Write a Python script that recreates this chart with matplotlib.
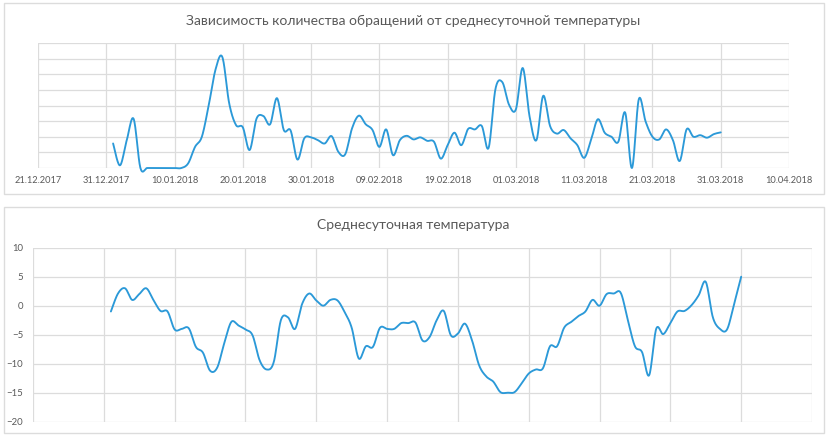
import numpy as np
import pandas as pd
import matplotlib
matplotlib.use("Agg")
import matplotlib.pyplot as plt
import matplotlib.dates as mdates
from matplotlib.patches import Rectangle

# ---------------- data ----------------
dates = pd.date_range("2018-01-01", "2018-03-31", freq="D")

calls = [1.57, 0.17, 1.78, 3.15, 0, 0, 0, 0, 0, 0,
         0, 0.3, 1.35, 2.0, 4.0, 6.3, 7.1, 4.15, 2.75, 2.6,
         1.15, 3.15, 3.33, 2.8, 4.47, 2.43, 2.4, 0.54, 1.9, 1.96,
         1.78, 1.57, 2.04, 1.03, 0.88, 2.54, 3.35, 2.8, 2.43, 1.35,
         2.47, 0.82, 1.78, 2.06, 1.83, 1.96, 1.74, 1.68, 0.6, 1.46,
         2.26, 1.46, 2.5, 2.47, 2.69, 1.29, 5.05, 5.5, 4.04, 3.76,
         6.4, 3.3, 1.78, 4.62, 2.69, 2.2, 2.43, 1.9, 1.46, 0.65,
         1.78, 3.12, 2.26, 2.0, 1.68, 3.55, 0, 4.4, 2.97, 2.0,
         1.83, 2.47, 1.78, 0.45, 2.47, 2.0, 2.1, 1.94, 2.17, 2.28]

temps = [-1.0, 2.1, 3.0, 1.0, 2.0, 3.0, 1.0, -0.9, -1.0, -4.1,
         -4.0, -3.9, -7.1, -8.1, -11.2, -10.7, -6.5, -2.8, -3.4, -4.1,
         -5.1, -9.4, -11.0, -9.7, -2.5, -2.0, -4.0, 0.3, 2.1, 0.9,
         0.0, 1.0, 0.9, -1.1, -3.8, -9.1, -7.0, -7.1, -3.8, -4.0,
         -4.0, -3.0, -3.0, -2.9, -6.0, -5.4, -2.5, -0.9, -5.1, -4.8,
         -3.1, -6.0, -10.3, -12.2, -13.1, -14.9, -15.0, -14.9, -13.4, -11.7,
         -11.0, -10.8, -7.0, -7.0, -3.8, -2.8, -1.8, -1.0, 1.0, 0.0,
         2.0, 2.1, 2.2, -2.5, -7.0, -8.0, -12.0, -4.0, -4.9, -3.0,
         -1.0, -0.9, 0.1, 1.8, 4.1, -2.0, -4.0, -4.1, 0.3, 5.0]

tick_labels = ["21.12.2017", "31.12.2017", "10.01.2018", "20.01.2018",
               "30.01.2018", "09.02.2018", "19.02.2018", "01.03.2018",
               "11.03.2018", "21.03.2018", "31.03.2018", "10.04.2018"]

title_top = "Зависимость количества обращений от среднесуточной температуры"
title_bottom = "Среднесуточная температура"

# ---------------- style ----------------
LINE = "#2b99d8"
GRID = "#dcdcdc"
TXT = "#595959"
plt.rcParams["font.family"] = ["Lato", "DejaVu Sans"]


def smooth(x, y, n=16):
    """Excel-like smoothed line (Catmull-Rom Bezier through the data)."""
    x = np.asarray(x, float)
    y = np.asarray(y, float)
    px = np.concatenate([[x[0]], x, [x[-1]]])
    py = np.concatenate([[y[0]], y, [y[-1]]])
    tt = np.linspace(0, 1, n, endpoint=False)
    xs, ys = [], []
    for i in range(1, len(px) - 2):
        p0x, p1x, p2x, p3x = px[i - 1], px[i], px[i + 1], px[i + 2]
        p0y, p1y, p2y, p3y = py[i - 1], py[i], py[i + 1], py[i + 2]
        b1x = p1x + (p2x - p0x) / 6
        b1y = p1y + (p2y - p0y) / 6
        b2x = p2x - (p3x - p1x) / 6
        b2y = p2y - (p3y - p1y) / 6
        bx = ((1 - tt) ** 3 * p1x + 3 * (1 - tt) ** 2 * tt * b1x
              + 3 * (1 - tt) * tt ** 2 * b2x + tt ** 3 * p2x)
        by = ((1 - tt) ** 3 * p1y + 3 * (1 - tt) ** 2 * tt * b1y
              + 3 * (1 - tt) * tt ** 2 * b2y + tt ** 3 * p2y)
        xs.append(bx)
        ys.append(by)
    xs.append([x[-1]])
    ys.append([y[-1]])
    return np.concatenate(xs), np.concatenate(ys)


W, H = 831, 441
fig = plt.figure(figsize=(W / 100, H / 100), dpi=100)
fig.patch.set_facecolor("white")

# chart frames
for (x0, y0, x1, y1) in [(4, 3, 824, 194), (4, 207, 824, 433)]:
    fig.patches.append(Rectangle((x0 / W, 1 - y1 / H), (x1 - x0) / W, (y1 - y0) / H,
                                 transform=fig.transFigure, fill=False,
                                 edgecolor=GRID, linewidth=1.0))

tick_dates = pd.to_datetime(tick_labels, format="%d.%m.%Y")
xnum = mdates.date2num(dates.to_pydatetime())
tnum = mdates.date2num(tick_dates.to_pydatetime())

# ---------------- top chart ----------------
ax1 = fig.add_axes([38 / W, 1 - 168 / H, (789 - 38) / W, (168 - 43) / H])
sx, sy = smooth(xnum, calls)
ax1.plot(sx, sy, color=LINE, lw=1.35, solid_capstyle="round", clip_on=False, zorder=3)
ax1.set_xlim(tnum[0], tnum[-1])
ax1.set_ylim(0, 8)
ax1.set_xticks(tnum)
ax1.set_xticklabels(tick_labels)
ax1.set_yticks(np.arange(0, 9, 1))
ax1.set_yticklabels([])
ax1.grid(True, color=GRID, lw=0.9)
ax1.set_axisbelow(True)
for s in ax1.spines.values():
    s.set_visible(False)
ax1.tick_params(length=0, labelsize=6.7, colors=TXT, pad=6)
fig.text(413 / W, 1 - 21 / H, title_top, ha="center", va="center",
         fontsize=10.0, color=TXT)

# ---------------- bottom chart ----------------
ax2 = fig.add_axes([33 / W, 1 - 421.7 / H, (812 - 33) / W, (421.7 - 247.7) / H])
sx2, sy2 = smooth(xnum, temps)
ax2.plot(sx2, sy2, color=LINE, lw=1.35, solid_capstyle="round", zorder=3)
ax2.set_xlim(tnum[0], tnum[-1])
ax2.set_ylim(-20, 10)
ax2.set_xticks(tnum)
ax2.set_xticklabels([])
ax2.set_yticks(np.arange(-20, 11, 5))
ax2.grid(True, color=GRID, lw=0.9)
ax2.set_axisbelow(True)
for s in ax2.spines.values():
    s.set_visible(False)
ax2.tick_params(length=0, labelsize=6.9, colors=TXT, pad=7)
fig.text(413.5 / W, 1 - 225 / H, title_bottom, ha="center", va="center",
         fontsize=10.0, color=TXT)

fig.savefig("out.png", dpi=100, facecolor="white")
